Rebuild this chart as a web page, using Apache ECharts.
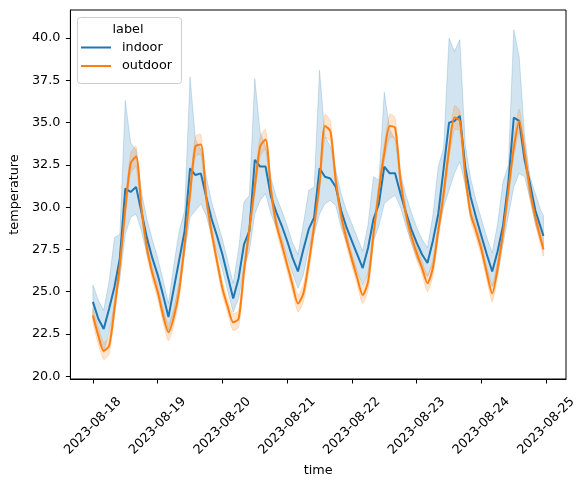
<!DOCTYPE html>
<html>
<head>
<meta charset="utf-8">
<script src="https://cdn.jsdelivr.net/npm/echarts@6/dist/echarts.min.js"></script>
<style>
  html, body { margin: 0; padding: 0; background: #fff; }
  #chart { width: 587px; height: 485px; }
</style>
</head>
<body>
<div id="chart"></div>
<script>
// hours since 2023-08-18 00:00, one reading every 2 hours (last one at 23:00 on the 24th)
var dayLabels = ['2023-08-18', '2023-08-19', '2023-08-20', '2023-08-21', '2023-08-22', '2023-08-23', '2023-08-24', '2023-08-25'];
var yTicks = [20.0, 22.5, 25.0, 27.5, 30.0, 32.5, 35.0, 37.5, 40.0];

// indoor mean + confidence band
var indoor = [
    24.4, 23.4, 22.8, 24.0, 25.3, 27.0, 31.1, 30.9, 31.2, 29.7, 28.2, 27.0,
    26.0, 24.8, 23.5, 25.2, 26.9, 28.6, 32.3, 31.9, 32.0, 30.6, 29.3, 28.3,
    27.2, 25.9, 24.6, 25.8, 27.8, 28.6, 32.8, 32.4, 32.4, 30.6, 29.7, 28.9,
    28.0, 27.0, 26.2, 27.5, 28.7, 29.4, 32.3, 31.8, 31.7, 31.2, 29.8, 28.8,
    28.0, 27.2, 26.4, 27.6, 29.3, 30.2, 32.4, 32.0, 32.0, 30.8, 29.7, 28.7,
    27.9, 27.2, 26.7, 28.0, 29.6, 32.3, 35.0, 35.1, 35.4, 32.4, 30.6, 29.4,
    28.3, 27.2, 26.2, 27.4, 28.9, 31.5, 35.3, 35.1, 32.8, 31.4, 29.8, 28.8,
    28.3
];
var indoorHi = [
    25.4, 24.5, 23.9, 25.6, 28.2, 28.4, 36.3, 33.8, 33.4, 30.9, 29.3, 28.1,
    27.0, 25.7, 24.3, 26.6, 28.6, 29.8, 37.7, 34.0, 33.4, 31.8, 30.3, 29.2,
    28.1, 26.8, 25.5, 27.5, 30.3, 30.7, 37.6, 34.4, 33.6, 31.7, 30.6, 29.8,
    28.9, 27.9, 27.2, 29.0, 31.0, 31.2, 38.1, 34.2, 33.6, 32.2, 30.8, 29.8,
    29.0, 28.2, 27.4, 29.0, 31.8, 31.6, 36.8, 34.6, 34.0, 32.0, 30.7, 29.7,
    28.8, 28.1, 27.6, 29.5, 32.4, 33.5, 40.0, 39.2, 39.9, 33.7, 31.7, 30.4,
    29.3, 28.2, 27.3, 29.0, 31.5, 32.5, 40.5, 38.9, 34.2, 31.8, 30.8, 29.8,
    29.5
];
var indoorLo = [
    23.6, 22.4, 21.4, 22.6, 24.2, 25.8, 28.4, 29.4, 29.6, 28.6, 27.2, 26.1,
    25.0, 23.9, 22.7, 23.8, 25.5, 27.3, 29.4, 29.8, 30.2, 29.5, 28.3, 27.4,
    26.3, 25.0, 23.8, 24.6, 26.5, 27.4, 29.6, 30.4, 30.8, 29.6, 28.8, 28.0,
    27.1, 26.1, 25.2, 26.0, 27.6, 28.4, 29.6, 30.2, 30.4, 30.1, 28.8, 27.9,
    27.0, 26.2, 25.4, 26.1, 28.0, 28.9, 30.2, 30.5, 30.7, 30.0, 28.9, 27.9,
    27.0, 26.3, 25.9, 26.6, 28.5, 30.0, 31.0, 32.0, 32.7, 31.3, 29.7, 28.6,
    27.4, 26.3, 25.3, 26.0, 27.8, 29.5, 31.2, 32.0, 31.8, 30.5, 29.0, 28.0,
    27.7
];

// outdoor mean + confidence band
var outdoor = [
    23.6, 22.4, 21.5, 21.8, 24.0, 26.6, 29.9, 32.6, 33.0, 29.9, 27.6, 26.1,
    25.0, 23.6, 22.6, 23.5, 25.1, 27.8, 30.8, 33.6, 33.7, 30.6, 28.5, 26.8,
    25.2, 24.1, 23.2, 23.4, 26.2, 28.7, 31.2, 33.6, 34.0, 31.0, 29.0, 27.8,
    26.6, 25.4, 24.3, 24.9, 26.7, 28.9, 31.4, 34.8, 34.5, 31.6, 29.5, 28.1,
    26.9, 25.8, 24.8, 25.6, 28.4, 31.0, 33.2, 34.8, 34.7, 31.6, 29.6, 28.3,
    27.3, 26.4, 25.5, 26.4, 28.6, 30.8, 33.4, 35.3, 35.1, 31.9, 29.6, 28.6,
    27.5, 26.1, 24.9, 26.4, 28.5, 31.0, 33.5, 35.1, 33.2, 31.0, 29.4, 28.1,
    27.5
];
var outdoorHi = [
    24.0, 22.9, 22.0, 22.3, 24.5, 27.1, 30.4, 33.2, 33.6, 30.4, 28.0, 26.5,
    25.4, 24.0, 23.1, 24.0, 25.6, 28.3, 31.3, 34.2, 34.3, 31.1, 28.9, 27.2,
    25.6, 24.5, 23.7, 23.9, 26.7, 29.2, 31.7, 34.2, 34.6, 31.5, 29.4, 28.2,
    27.0, 25.8, 24.8, 25.4, 27.2, 29.4, 31.9, 35.5, 35.1, 32.1, 29.9, 28.5,
    27.3, 26.2, 25.3, 26.1, 28.9, 31.5, 33.7, 35.5, 35.3, 32.1, 30.0, 28.7,
    27.7, 26.8, 26.0, 26.9, 29.1, 31.3, 33.9, 36.0, 35.7, 32.4, 30.0, 29.0,
    27.9, 26.5, 25.4, 26.9, 29.0, 31.5, 34.0, 35.8, 33.8, 31.5, 29.8, 28.5,
    27.9
];
var outdoorLo = [
    23.2, 21.9, 21.0, 21.3, 23.5, 26.1, 29.4, 32.0, 32.4, 29.4, 27.2, 25.7,
    24.6, 23.2, 22.1, 23.0, 24.6, 27.3, 30.3, 33.0, 33.1, 30.1, 28.1, 26.4,
    24.8, 23.7, 22.7, 22.9, 25.7, 28.2, 30.7, 33.0, 33.4, 30.5, 28.6, 27.4,
    26.2, 25.0, 23.8, 24.4, 26.2, 28.4, 30.9, 34.1, 33.9, 31.1, 29.1, 27.7,
    26.5, 25.4, 24.3, 25.1, 27.9, 30.5, 32.7, 34.1, 34.1, 31.1, 29.2, 27.9,
    26.9, 26.0, 25.0, 25.9, 28.1, 30.3, 32.9, 34.6, 34.5, 31.4, 29.2, 28.2,
    27.1, 25.7, 24.4, 25.9, 28.0, 30.5, 33.0, 34.4, 32.6, 30.5, 29.0, 27.7,
    27.1
];

var hours = indoor.map(function (_, i) { return Math.min(i * 2, 167); });
var dayTicks = dayLabels.map(function (_, i) { return i * 24; });

var chart = echarts.init(document.getElementById('chart'), null, { renderer: 'canvas' });
var FONT = 'DejaVu Sans';

function pairs(vals) {
    return vals.map(function (v, i) { return [hours[i], v]; });
}

// band drawn as a single polygon through the axis scales
function band(name, hi, lo, color, smooth) {
    return {
        name: name,
        type: 'custom',
        z: 1,
        silent: true,
        data: [0],
        renderItem: function (params, api) {
            var top = [], bottom = [];
            for (var i = 0; i < hi.length; i++) top.push(api.coord([hours[i], hi[i]]));
            for (var j = lo.length - 1; j >= 0; j--) bottom.push(api.coord([hours[j], lo[j]]));
            return {
                type: 'polygon',
                shape: { points: top.concat(bottom), smooth: smooth },
                style: { fill: color, stroke: color, lineWidth: 1 }
            };
        }
    };
}

var option = {
    animation: false,
    backgroundColor: '#fff',
    textStyle: { fontFamily: FONT },
    grid: {
        left: 70, top: 10, width: 496, height: 369,
        show: true, borderColor: '#000', borderWidth: 1, backgroundColor: 'transparent'
    },
    xAxis: {
        type: 'value',
        min: -8.35, max: 175.35,
        name: 'time',
        nameLocation: 'middle',
        nameGap: 74,
        nameTextStyle: { color: '#000', fontSize: 12.8, fontFamily: FONT },
        splitLine: { show: false },
        axisLine: { onZero: false, lineStyle: { color: '#000', width: 1 } },
        axisTick: { customValues: dayTicks, length: 4.5, lineStyle: { color: '#000' } },
        axisLabel: {
            customValues: dayTicks,
            rotate: 45,
            align: 'center',
            verticalAlign: 'middle',
            margin: 47,
            color: '#000',
            fontSize: 12.8,
            fontFamily: FONT,
            formatter: function (v) { return dayLabels[Math.round(v / 24)]; }
        }
    },
    yAxis: {
        type: 'value',
        min: 19.84, max: 41.66,
        name: 'temperature',
        nameLocation: 'middle',
        nameGap: 47,
        nameTextStyle: { color: '#000', fontSize: 12.8, fontFamily: FONT },
        splitLine: { show: false },
        axisLine: { show: true, onZero: false, lineStyle: { color: '#000', width: 1 } },
        axisTick: { show: true, customValues: yTicks, length: 4.5, lineStyle: { color: '#000' } },
        axisLabel: {
            customValues: yTicks,
            margin: 10,
            color: '#000',
            fontSize: 12.8,
            fontFamily: FONT,
            formatter: function (v) { return v.toFixed(1); }
        }
    },
    legend: {
        data: ['indoor', 'outdoor'],
        orient: 'vertical',
        left: 81, top: 41,
        padding: 0,
        itemGap: 5.5,
        itemWidth: 30, itemHeight: 2,
        icon: 'rect',
        textStyle: { color: '#000', fontSize: 12.8, fontFamily: FONT, padding: [0, 0, 0, 6] }
    },
    graphic: [{
        type: 'rect',
        z: 0,
        shape: { x: 77.5, y: 17.5, width: 104, height: 66, r: 3 },
        style: { fill: 'rgba(255,255,255,0.8)', stroke: '#cccccc', lineWidth: 1 }
    }, {
        type: 'text',
        z: 1,
        x: 128, y: 29.5,
        style: { text: 'label', fill: '#000', font: '12.8px "DejaVu Sans"', align: 'center', verticalAlign: 'middle' }
    }],
    series: [
        band('indoor band', indoorHi, indoorLo, 'rgba(31,119,180,0.2)', 0),
        band('outdoor band', outdoorHi, outdoorLo, 'rgba(255,127,14,0.2)', 0.2),
        {
            name: 'indoor', type: 'line', z: 2,
            data: pairs(indoor),
            showSymbol: false, symbol: 'none',
            color: '#1f77b4',
            lineStyle: { color: '#1f77b4', width: 2 }
        },
        {
            name: 'outdoor', type: 'line', z: 3,
            data: pairs(outdoor),
            showSymbol: false, symbol: 'none',
            smooth: 0.25,
            color: '#ff7f0e',
            lineStyle: { color: '#ff7f0e', width: 2 }
        }
    ]
};

chart.setOption(option);
</script>
</body>
</html>
